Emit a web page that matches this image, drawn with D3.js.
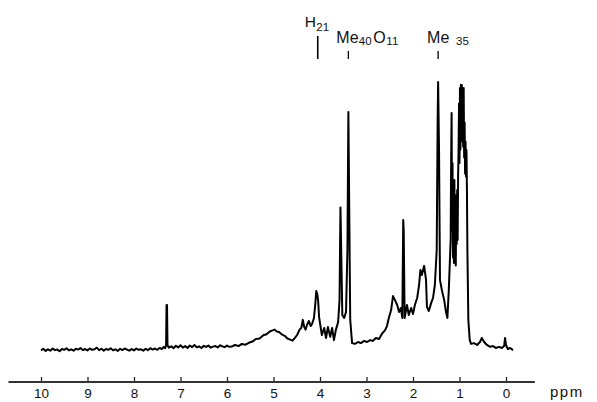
<!DOCTYPE html>
<html>
<head>
<meta charset="utf-8">
<script src="https://cdn.jsdelivr.net/npm/d3@7"></script>
<style>
  body { margin: 0; background: #fff; }
  text { font-family: "Liberation Sans", Arial, sans-serif; fill: #111; }
</style>
</head>
<body>
<script>
// chemical shift (ppm) and relative intensity
let shifts = [
  10.00, 9.95, 9.90, 9.85, 9.80, 9.75, 9.70, 9.65, 9.60, 9.55, 9.50, 9.45, 9.40, 9.35, 9.30, 9.25,
  9.20, 9.15, 9.10, 9.05, 9.00, 8.95, 8.90, 8.85, 8.80, 8.75, 8.70, 8.65, 8.60, 8.55, 8.50, 8.45,
  8.40, 8.35, 8.30, 8.25, 8.20, 8.15, 8.10, 8.05, 8.00, 7.95, 7.90, 7.85, 7.80, 7.75, 7.70, 7.65,
  7.60, 7.55, 7.50, 7.45, 7.40, 7.36, 7.33, 7.31, 7.30, 7.29, 7.28, 7.25, 7.20, 7.15, 7.10, 7.05,
  7.00, 6.95, 6.90, 6.85, 6.80, 6.75, 6.70, 6.65, 6.60, 6.55, 6.50, 6.45, 6.40, 6.35, 6.30, 6.25,
  6.20, 6.15, 6.10, 6.05, 6.00, 5.95, 5.90, 5.83, 5.75, 5.68, 5.60, 5.52, 5.45, 5.38, 5.30, 5.22,
  5.15, 5.08, 5.02, 4.98, 4.93, 4.88, 4.82, 4.76, 4.70, 4.64, 4.59, 4.54, 4.49, 4.44, 4.40, 4.37,
  4.34, 4.31, 4.28, 4.24, 4.20, 4.17, 4.13, 4.10, 4.08, 4.06, 4.04, 4.02, 4.00, 3.96, 3.91, 3.87,
  3.83, 3.78, 3.74, 3.70, 3.66, 3.61, 3.58, 3.56, 3.54, 3.52, 3.48, 3.44, 3.41, 3.39, 3.38, 3.35,
  3.31, 3.25, 3.18, 3.12, 3.05, 2.99, 2.92, 2.86, 2.80, 2.73, 2.67, 2.60, 2.56, 2.52, 2.47, 2.43,
  2.39, 2.34, 2.30, 2.26, 2.23, 2.21, 2.20, 2.18, 2.13, 2.09, 2.04, 2.00, 1.96, 1.91, 1.87, 1.84,
  1.81, 1.76, 1.72, 1.70, 1.66, 1.61, 1.57, 1.53, 1.49, 1.47, 1.46, 1.44, 1.42, 1.38, 1.33, 1.29,
  1.26, 1.23, 1.19, 1.18, 1.17, 1.16, 1.15, 1.14, 1.13, 1.12, 1.11, 1.10, 1.09, 1.08, 1.07, 1.06,
  1.05, 1.04, 1.03, 1.02, 1.01, 1.00, 0.99, 0.98, 0.97, 0.96, 0.95, 0.94, 0.93, 0.92, 0.91, 0.90,
  0.89, 0.88, 0.87, 0.86, 0.85, 0.84, 0.83, 0.81, 0.78, 0.75, 0.69, 0.62, 0.56, 0.52, 0.47, 0.41,
  0.34, 0.28, 0.22, 0.15, 0.09, 0.04, 0.02, 0.00, -0.04, -0.09, -0.15
];

let intensity = [
  0.6, 1.2, 0.4, 1.0, 0.5, 1.3, 0.7, 0.9, 0.3, 1.1, 0.8, 1.4, 0.6, 1.0, 0.5, 1.2,
  0.9, 1.5, 0.7, 1.1, 0.6, 1.3, 0.8, 1.0, 1.6, 0.7, 1.2, 0.5, 1.1, 0.8, 1.4, 0.6,
  1.0, 0.4, 1.2, 0.7, 1.3, 0.9, 0.5, 1.1, 0.6, 1.3, 0.8, 1.0, 0.5, 1.2, 0.7, 1.4,
  0.9, 1.3, 0.8, 1.5, 1.1, 1.9, 1.4, 2.4, 17.4, 17.4, 2.6, 1.6, 2.1, 1.4, 2.3, 1.7,
  2.5, 1.6, 2.2, 1.5, 2.4, 1.8, 2.6, 1.7, 2.1, 1.5, 2.3, 1.9, 2.4, 1.6, 2.0, 2.2,
  1.7, 2.5, 2.1, 1.8, 2.4, 1.9, 2.0, 2.6, 2.2, 3.0, 2.7, 3.5, 3.9, 4.8, 5.0, 6.2,
  6.6, 7.6, 8.0, 8.3, 7.6, 7.4, 6.5, 6.0, 5.0, 4.6, 4.2, 5.2, 6.4, 8.3, 9.0, 11.9,
  9.3, 8.3, 10.0, 11.5, 9.6, 10.4, 12.6, 18.0, 22.6, 21.5, 19.0, 13.0, 10.7, 6.3, 8.9, 5.2,
  9.3, 5.6, 8.9, 4.4, 8.1, 11.1, 19.3, 53.5, 34.1, 13.7, 12.6, 14.8, 37.8, 88.9, 70.0, 11.9,
  3.3, 3.0, 3.7, 3.3, 4.1, 3.7, 4.4, 4.1, 5.2, 4.8, 6.7, 8.1, 9.6, 12.6, 15.6, 20.7,
  19.3, 17.4, 14.8, 16.3, 12.6, 48.9, 45.0, 12.6, 17.4, 13.7, 16.3, 14.1, 17.4, 20.0, 24.8, 30.4,
  28.5, 31.9, 26.7, 16.7, 15.2, 18.1, 20.0, 24.8, 37.8, 85.9, 100, 74.8, 26.7, 23.0, 19.3, 14.8,
  12.6, 23.0, 41.5, 70.0, 88.5, 45.0, 70.0, 35.0, 60.0, 33.0, 63.7, 36.0, 55.0, 32.0, 58.1, 40.0,
  60.0, 41.5, 65.0, 74.8, 92.0, 70.0, 97.8, 75.0, 99.0, 80.0, 98.9, 78.0, 97.0, 76.0, 97.8, 72.0,
  85.0, 66.0, 78.0, 65.0, 74.8, 60.0, 37.8, 11.9, 4.4, 3.0, 3.3, 2.6, 3.7, 5.2, 3.7, 2.6,
  1.9, 2.2, 1.5, 1.9, 1.5, 2.2, 5.2, 2.6, 1.1, 1.5, 0.7
];

let tickValues = [10, 9, 8, 7, 6, 5, 4, 3, 2, 1, 0];

// marker positions for H21, Me40 and Me35
let assignPpm = [4.07, 3.39, 1.46];

let width = 597,
    height = 402;

let svg =
    d3.select("body")
        .append("svg")
        .attr("width", width)
        .attr("height", height);

let xScaler =
    d3.scaleLinear()
        .domain([10, 0])
        .range([41, 506]);

let yScaler =
    d3.scaleLinear()
        .domain([0, 100])
        .range([352, 82]);

let axisY = 382;

// axis, ticks pointing up
let axisG =
    svg.append("g")
        .attr("transform", `translate(0, ${axisY})`)
        .call(d3.axisBottom(xScaler)
            .tickValues(tickValues)
            .tickSizeInner(-5)
            .tickSizeOuter(0)
            .tickPadding(6)
            .tickFormat(d3.format("d")));

axisG.select(".domain").remove();
axisG.selectAll(".tick line").attr("stroke", "#222").attr("stroke-width", 1.3);
axisG.selectAll(".tick text")
    .style("font-family", "'Liberation Sans', Arial, sans-serif")
    .style("font-size", "13.5px")
    .attr("fill", "#111");

axisG.append("line")
    .attr("x1", xScaler(10.7))
    .attr("x2", xScaler(-0.62))
    .attr("stroke", "#333")
    .attr("stroke-width", 1.8);

svg.append("text")
    .attr("x", 550)
    .attr("y", 397)
    .style("font-size", "15px")
    .style("letter-spacing", "1.5px")
    .text("ppm");

// spectrum trace
let points = shifts.map((s, i) => [s, intensity[i]]);

let lineMaker =
    d3.line()
        .x(d => xScaler(d[0]))
        .y(d => yScaler(d[1]));

svg.append("path")
    .datum(points)
    .attr("d", lineMaker)
    .attr("fill", "none")
    .attr("stroke", "#000")
    .attr("stroke-width", 2)
    .attr("stroke-linejoin", "round");

// assignment markers
let h = xScaler(assignPpm[0]),
    m40 = xScaler(assignPpm[1]),
    m35 = xScaler(assignPpm[2]);

svg.append("line")
    .attr("x1", h + 1).attr("x2", h + 1)
    .attr("y1", 36).attr("y2", 59)
    .attr("stroke", "#000").attr("stroke-width", 1.6);

[m40, m35].forEach(px => {
    svg.append("line")
        .attr("x1", px).attr("x2", px)
        .attr("y1", 51).attr("y2", 59)
        .attr("stroke", "#000").attr("stroke-width", 1.3);
});

let label = (x, y, size, txt) =>
    svg.append("text")
        .attr("x", x)
        .attr("y", y)
        .style("font-size", size + "px")
        .text(txt);

label(h - 12, 27, 15.5, "H");
label(h - 0.5, 31, 11.5, "21");

label(m40 - 12, 43, 16, "Me");
label(m40 + 10.5, 45, 11.5, "40");
label(m40 + 25, 43, 16, "O");
label(m40 + 38, 45, 11.5, "11");

label(m35 - 11, 43, 16, "Me");
label(m35 + 18, 45, 11.5, "35");
</script>
</body>
</html>
